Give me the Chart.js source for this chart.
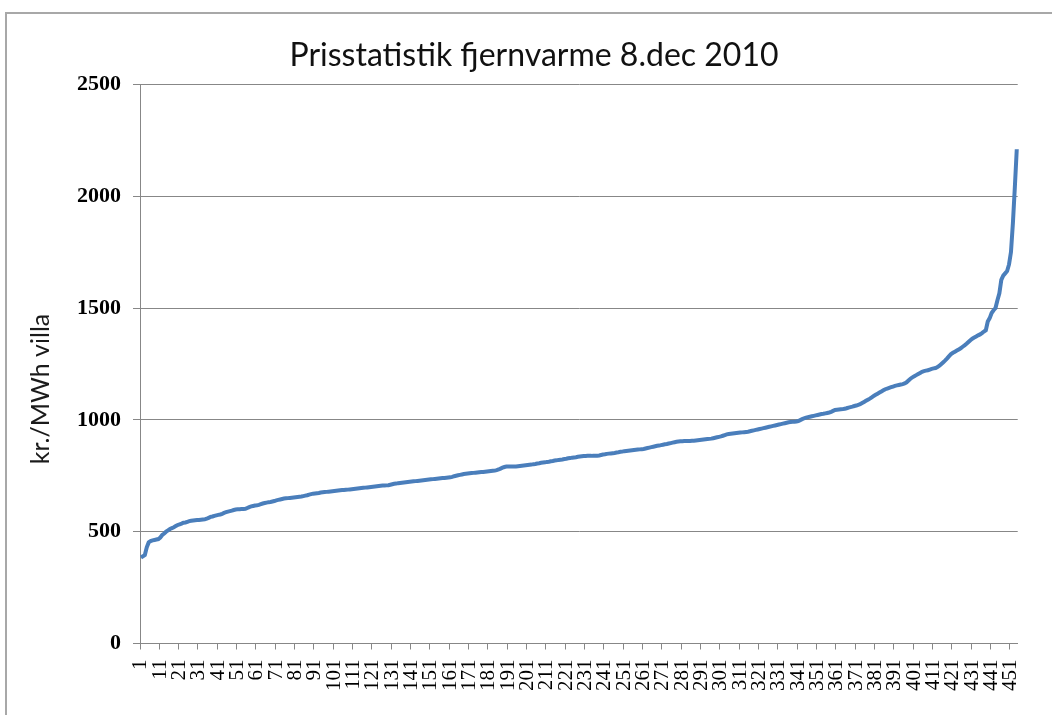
<!DOCTYPE html>
<html>
<head>
<meta charset="utf-8">
<script src="https://cdn.jsdelivr.net/npm/chart.js@4/dist/chart.umd.min.js"></script>
<style>
  html, body { margin: 0; padding: 0; background: #fff; overflow: hidden; }
  #wrap { position: relative; width: 1052px; height: 715px; overflow: hidden; }
  #frame { position: absolute; left: 5px; top: 12px; width: 1100px; height: 800px;
           border: 2px solid #a8a8a8; box-sizing: border-box; }
  #c { position: absolute; left: 0; top: 0; }
</style>
</head>
<body>
<div id="wrap">
  <div id="frame"></div>
  <canvas id="c" width="1052" height="715"></canvas>
</div>
<script>
// District heating price per MWh for a standard house, sorted from cheapest to most expensive
const chartTitle = 'Prisstatistik fjernvarme 8.dec 2010';
const yAxisTitle = 'kr./MWh villa';

const priceValues = [
  385, 390, 396, 430, 452, 458, 461, 463, 465, 467,
  474, 485, 492, 500, 506, 512, 516, 520, 525, 530,
  533, 536, 540, 541, 544, 547, 549, 550, 551, 552,
  552, 553, 554, 555, 558, 562, 566, 568, 571, 573,
  575, 577, 580, 584, 587, 590, 592, 594, 597, 599,
  600, 600, 601, 601, 602, 606, 610, 613, 615, 617,
  618, 620, 623, 626, 628, 630, 632, 633, 635, 637,
  640, 642, 644, 646, 648, 649, 650, 651, 652, 653,
  654, 655, 656, 657, 659, 661, 663, 666, 668, 670,
  671, 672, 673, 675, 676, 677, 678, 679, 680, 681,
  682, 683, 684, 685, 686, 686, 687, 688, 689, 690,
  691, 692, 693, 694, 695, 696, 697, 698, 699, 700,
  701, 702, 703, 704, 705, 706, 706, 707, 708, 710,
  712, 714, 715, 717, 718, 719, 720, 721, 722, 723,
  724, 725, 726, 727, 728, 729, 730, 731, 732, 733,
  734, 735, 736, 737, 738, 739, 740, 740, 741, 742,
  743, 745, 748, 750, 752, 754, 756, 758, 759, 760,
  761, 762, 763, 764, 765, 766, 767, 767, 768, 769,
  770, 771, 772, 773, 775, 778, 782, 786, 789, 791,
  791, 791, 792, 792, 792, 793, 794, 795, 796, 797,
  798, 799, 800, 802, 803, 805, 806, 808, 809, 810,
  812, 813, 815, 816, 818, 819, 821, 822, 823, 825,
  826, 828, 829, 831, 832, 833, 835, 836, 837, 838,
  838, 839, 839, 839, 840, 840, 840, 841, 843, 845,
  846, 848, 849, 850, 851, 852, 854, 855, 857, 858,
  860, 861, 862, 863, 864, 865, 866, 867, 868, 869,
  870, 872, 874, 876, 878, 880, 882, 884, 885, 887,
  889, 891, 892, 894, 896, 898, 900, 902, 903, 904,
  904, 905, 905, 906, 906, 907, 907, 908, 909, 910,
  911, 912, 913, 914, 915, 916, 918, 920, 922, 924,
  926, 929, 932, 935, 937, 938, 939, 940, 941, 942,
  943, 944, 945, 946, 947, 949, 951, 953, 955, 957,
  959, 961, 963, 965, 967, 969, 971, 973, 975, 977,
  979, 981, 983, 985, 987, 989, 990, 991, 992, 993,
  995, 999, 1003, 1007, 1010, 1012, 1014, 1016, 1018, 1020,
  1022, 1024, 1026, 1027, 1029, 1031, 1033, 1036, 1040, 1044,
  1045, 1046, 1047, 1048, 1050, 1052, 1055, 1057, 1059, 1062,
  1064, 1067, 1070, 1075, 1080, 1085, 1090, 1095, 1101, 1107,
  1112, 1117, 1122, 1127, 1132, 1137, 1140, 1143, 1146, 1149,
  1152, 1154, 1156, 1158, 1160, 1163, 1168, 1176, 1184, 1190,
  1195, 1200, 1205, 1210, 1215, 1218, 1220, 1222, 1225, 1228,
  1230, 1232, 1236, 1242, 1250, 1258, 1266, 1275, 1285, 1294,
  1300, 1305, 1310, 1315, 1320, 1327, 1333, 1340, 1348, 1356,
  1363, 1368, 1373, 1378, 1382, 1388, 1395, 1401, 1440, 1455,
  1478, 1490, 1500, 1535, 1566, 1626, 1645, 1655, 1665, 1695,
  1750, 1880, 2040, 2210
];

// Rank numbers of the utilities along the x axis
const categories = priceValues.map((_, i) => String(i + 1));

// Rank numbers that get a printed label and a tick mark
const xTickLabels = [
  '1', '11', '21', '31', '41', '51', '61', '71', '81', '91',
  '101', '111', '121', '131', '141', '151', '161', '171', '181', '191',
  '201', '211', '221', '231', '241', '251', '261', '271', '281', '291',
  '301', '311', '321', '331', '341', '351', '361', '371', '381', '391',
  '401', '411', '421', '431', '441', '451'
];

const yMin = 0;
const yMax = 2500;
const yStep = 500;

const axisGray = '#878787';
const lineBlue = '#4A7EBB';

// Rotated y-axis caption, placed beside the value axis
const yCaption = {
  id: 'yCaption',
  afterDraw(chart) {
    const c = chart.ctx;
    c.save();
    c.translate(41, 389);
    c.rotate(-Math.PI / 2);
    c.font = '25px Lato';
    c.fillStyle = '#1a1a1a';
    c.textAlign = 'center';
    c.textBaseline = 'middle';
    c.fillText(yAxisTitle, 0, 0);
    c.restore();
  }
};

new Chart(document.getElementById('c'), {
  type: 'line',
  data: {
    labels: categories,
    datasets: [{
      data: priceValues,
      borderColor: lineBlue,
      borderWidth: 4,
      pointRadius: 0,
      tension: 0,
      fill: false
    }]
  },
  options: {
    responsive: false,
    animation: false,
    layout: { padding: { left: 48, right: 32, top: 12, bottom: 0 } },
    plugins: {
      legend: { display: false },
      tooltip: { enabled: false },
      title: {
        display: true,
        text: chartTitle,
        color: '#111',
        font: { family: 'Lato', size: 32, weight: 'normal', lineHeight: 1.2 },
        padding: { top: 24, bottom: 10 }
      }
    },
    scales: {
      x: {
        type: 'category',
        offset: true,
        grid: {
          offset: true,
          drawOnChartArea: false,
          drawTicks: true,
          tickLength: 6,
          lineWidth: 1,
          color: (ctx) => (ctx.index % 10 === 0 ? axisGray : 'rgba(0,0,0,0)')
        },
        border: { display: true, color: axisGray, width: 1 },
        ticks: {
          autoSkip: false,
          minRotation: 90,
          maxRotation: 90,
          padding: 10,
          color: '#000',
          font: { family: 'Liberation Serif', size: 21 },
          callback: function (value) {
            const label = this.getLabelForValue(value);
            return xTickLabels.includes(label) ? label : '';
          }
        },
        afterFit: (scale) => { scale.height = 71.5; }
      },
      y: {
        min: yMin,
        max: yMax,
        ticks: {
          stepSize: yStep,
          padding: 12,
          color: '#000',
          font: { family: 'Liberation Serif', size: 22, weight: 'bold' },
          callback: (value) => String(value)
        },
        grid: { color: axisGray, lineWidth: 1, tickLength: 7 },
        border: { display: true, color: axisGray, width: 1 },
        afterFit: (scale) => { scale.width = 92; }
      }
    }
  },
  plugins: [yCaption]
});
</script>
</body>
</html>
